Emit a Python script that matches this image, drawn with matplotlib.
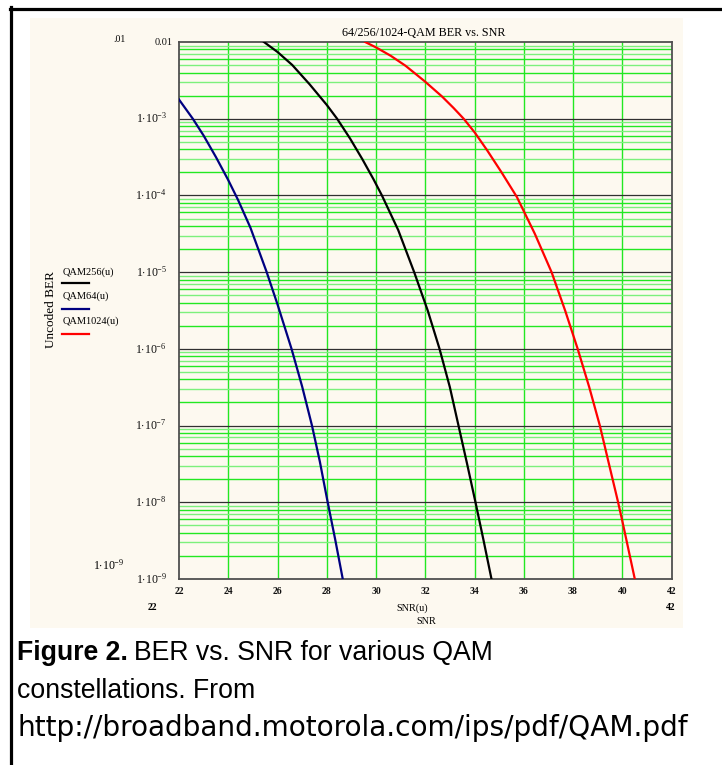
import numpy as np
import matplotlib
matplotlib.use("Agg")
import matplotlib.pyplot as plt
from matplotlib.lines import Line2D
import matplotlib.transforms as mtransforms

plt.rcParams['mathtext.fontset'] = 'custom'
plt.rcParams['mathtext.rm'] = 'Liberation Serif'
plt.rcParams['mathtext.it'] = 'Liberation Serif:italic'
plt.rcParams['mathtext.bf'] = 'Liberation Serif:bold'

# ---------------- data (SNR in dB, log10 of BER) ----------------
snr_qam64 = [22.0, 22.56, 23.0, 23.5, 24.0, 24.4, 24.9, 25.55, 26.0, 26.57, 27.0,
             27.4, 27.72, 28.02, 28.34, 28.65]
log_ber_qam64 = [-2.75, -3.0, -3.22, -3.5, -3.8, -4.06, -4.42, -4.99, -5.42, -6.0, -6.49,
                 -7.0, -7.47, -7.97, -8.48, -9.0]

snr_qam256 = [25.45, 26.0, 26.6, 27.3, 28.0, 28.42, 28.95, 29.45, 29.9, 30.24, 30.9,
              31.55, 32.1, 32.58, 33.0, 33.35, 33.7, 34.04, 34.37, 34.69]
log_ber_qam256 = [-2.0, -2.13, -2.30, -2.55, -2.82, -3.0, -3.26, -3.53, -3.79, -4.0, -4.45,
                  -5.0, -5.5, -6.0, -6.5, -7.0, -7.5, -8.0, -8.5, -9.0]

snr_qam1024 = [29.56, 30.0, 30.6, 31.2, 31.97, 32.68, 33.15, 33.56, 34.01, 34.51, 35.1,
               35.72, 36.45, 37.13, 37.68, 38.19, 38.66, 39.09, 39.46, 39.81, 40.0, 40.51]
log_ber_qam1024 = [-2.0, -2.07, -2.18, -2.31, -2.51, -2.71, -2.86, -3.0, -3.18, -3.41, -3.70,
                   -4.02, -4.5, -5.0, -5.5, -6.0, -6.5, -7.0, -7.5, -7.97, -8.24, -9.0]

x_ticks = [22, 24, 26, 28, 30, 32, 34, 36, 38, 40, 42]
y_decades = [1e-2, 1e-3, 1e-4, 1e-5, 1e-6, 1e-7, 1e-8, 1e-9]
y_labels = ['0.01', r'$1{\cdot}10^{-3}$', r'$1{\cdot}10^{-4}$', r'$1{\cdot}10^{-5}$',
            r'$1{\cdot}10^{-6}$', r'$1{\cdot}10^{-7}$', r'$1{\cdot}10^{-8}$', r'$1{\cdot}10^{-9}$']
series_names = ['QAM256(u)', 'QAM64(u)', 'QAM1024(u)']
series_colors = ['#000000', '#000080', '#ff0000']

title = '64/256/1024-QAM BER vs. SNR'
caption_bold = 'Figure 2.'
caption_line1 = 'BER vs. SNR for various QAM'
caption_line2 = 'constellations. From'
caption_url = 'http://broadband.motorola.com/ips/pdf/QAM.pdf'

# ---------------- figure ----------------
W, H = 722, 765
fig = plt.figure(figsize=(W / 100, H / 100), dpi=100)
fig.patch.set_facecolor('white')

def fx(px):
    return px / W

def fy(py):
    return 1 - py / H

# cream panel
panel = fig.add_axes([fx(30), fy(628), fx(683 - 30), (628 - 18) / H])
panel.set_facecolor('#fdf9f0')
panel.set_xticks([]); panel.set_yticks([])
for s in panel.spines.values():
    s.set_visible(False)
panel.set_zorder(0)

# black frame lines (left and top)
fig.add_artist(Line2D([fx(10.5), fx(10.5)], [fy(7), fy(765)], color='black', lw=2.3, transform=fig.transFigure))
fig.add_artist(Line2D([fx(9.5), fx(722)], [fy(8.5), fy(8.5)], color='black', lw=2.3, transform=fig.transFigure))

ax = fig.add_axes([fx(179), fy(579), fx(671.5 - 179), (579 - 42) / H])
ax.set_zorder(1)
ax.set_facecolor('#fdf9f0')
ax.set_yscale('log')
ax.set_xlim(22, 42)
ax.set_ylim(1e-9, 1e-2)

# grid: vertical green
for xv in x_ticks[1:-1]:
    ax.axvline(xv, color='#22e822', lw=1.0, zorder=1)
# horizontal minor green
for d in y_decades[1:]:
    for k in range(2, 10):
        col = '#22e822' if k % 2 == 0 else '#7cf07c'
        ax.axhline(d * k, color=col, lw=1.0, zorder=1)
# decade lines
for d in y_decades[1:-1]:
    ax.axhline(d, color='#303030', lw=0.9, zorder=2)

for snr, lb, col in [(snr_qam256, log_ber_qam256, series_colors[0]),
                     (snr_qam64, log_ber_qam64, series_colors[1]),
                     (snr_qam1024, log_ber_qam1024, series_colors[2])]:
    ax.plot(snr, 10.0 ** np.asarray(lb), color=col, lw=1.6, zorder=3,
            solid_joinstyle='round', clip_on=True)

ax.set_xticks([]); ax.set_yticks([]); ax.minorticks_off()
ax.yaxis.set_minor_locator(matplotlib.ticker.NullLocator())
for s in ax.spines.values():
    s.set_color('#505050')
    s.set_linewidth(1.3)

serif = 'Liberation Serif'
# x tick labels
xtr = mtransforms.blended_transform_factory(ax.transData, fig.transFigure)
for xv in x_ticks:
    ax.text(xv, fy(591), str(xv), transform=xtr, ha='center', va='center',
            fontsize=7, family=serif, fontweight='bold', color='#111111')
# y tick labels
ytr = mtransforms.blended_transform_factory(fig.transFigure, ax.transData)
for yv, lab in zip(y_decades, y_labels):
    if lab == '0.01':
        ax.text(fx(173), yv, lab, transform=ytr, ha='right', va='center',
                fontsize=7.5, family=serif, color='#111111')
    else:
        ax.text(fx(167), yv, lab, transform=ytr, ha='right', va='center',
                fontsize=8.5, family=serif, color='#111111')

# title
fig.text(fx(424), fy(33), title, ha='center', va='center', fontsize=8.7, family=serif)

# extra Mathcad annotations
fig.text(fx(119), fy(40), '.01', ha='center', va='center', fontsize=7, family=serif)
fig.text(fx(109), fy(565), r'$1{\cdot}10^{-9}$', ha='center', va='center', fontsize=8.5, family=serif)
fig.text(fx(152), fy(608), '22', ha='center', va='center', fontsize=7, family=serif, fontweight='bold')
fig.text(fx(671), fy(608), '42', ha='center', va='center', fontsize=7, family=serif, fontweight='bold')
fig.text(fx(412), fy(608), 'SNR(u)', ha='center', va='center', fontsize=7.3, family=serif)
fig.text(fx(426), fy(621), 'SNR', ha='center', va='center', fontsize=7.3, family=serif)

# y-axis label
fig.text(fx(51), fy(310), 'Uncoded BER', rotation=90, ha='center', va='center', fontsize=9.5, family=serif)

# legend
leg_text_y = [272, 296, 321]
leg_line_y = [283, 309, 334]
for name, col, ty, ly in zip(series_names, series_colors, leg_text_y, leg_line_y):
    fig.text(fx(63), fy(ty), name, ha='left', va='center', fontsize=7.5, family=serif)
    fig.add_artist(Line2D([fx(62), fx(89)], [fy(ly), fy(ly)], color=col, lw=1.6, transform=fig.transFigure))

# caption
cap_font = 'Liberation Sans'
cap_size = 19.2
renderer = fig.canvas.get_renderer()
t1 = fig.text(fx(17), fy(660), caption_bold, ha='left', va='baseline', fontsize=cap_size,
              family=cap_font, fontweight='bold')
bb = t1.get_window_extent(renderer)
fig.text(bb.x1 / W + fx(6), fy(660), caption_line1, ha='left', va='baseline',
         fontsize=cap_size, family=cap_font)
fig.text(fx(17), fy(698), caption_line2, ha='left', va='baseline', fontsize=cap_size, family=cap_font)
turl = fig.text(fx(17), fy(736), caption_url, ha='left', va='baseline',
                fontsize=cap_size, family='DejaVu Sans')
wurl = turl.get_window_extent(renderer).width
turl.set_fontsize(cap_size * 672.0 / wurl)

fig.savefig('out.png', dpi=100, facecolor='white')
